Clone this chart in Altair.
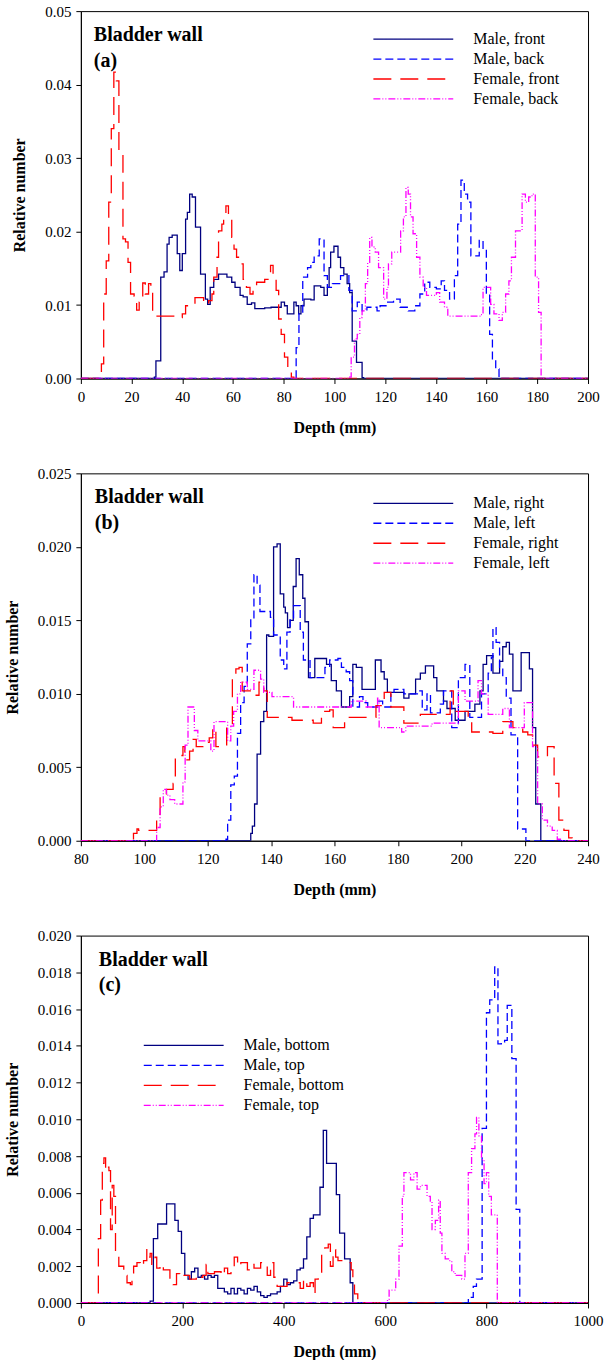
import altair as alt
import pandas as pd

# ---------------- Panel (a): front / back ----------------
a_names = ["Male, front", "Male, back", "Female, front", "Female, back"]
a_mf_x = [0, 29.0, 29.6, 31.5, 32.8, 34.0, 34.8, 36.0, 38.0, 39.0, 40.0, 41.3, 42.0, 42.9, 43.9, 45.2, 47.2, 49.1, 50.0, 51.0,
          52.4, 54.3, 57.6, 59.5, 60.8, 62.8, 64.0, 65.6, 67.3, 68.6, 72.5, 75.0, 79.0, 80.3, 81.4, 84.0, 84.9, 85.9, 86.8, 88.0,
          90.7, 92.0, 94.6, 95.9, 97.2, 97.9, 98.5, 99.8, 101.4, 102.4, 103.7, 105.0, 106.0, 107.0, 108.7, 110.9, 111.5, 200]
a_mf_y = [0, 0.0002, 0.0024, 0.0138, 0.0145, 0.0183, 0.0192, 0.0195, 0.0170, 0.0147, 0.0170, 0.0217, 0.0226, 0.0251, 0.0247, 0.0206, 0.0142, 0.0108, 0.0101, 0.0124,
          0.0135, 0.0142, 0.0138, 0.0131, 0.0124, 0.0113, 0.0111, 0.0101, 0.0103, 0.0095, 0.0096, 0.0097, 0.0104, 0.0099, 0.0088, 0.0104, 0.0099, 0.0088, 0.0099, 0.0108,
          0.0107, 0.0126, 0.0124, 0.0113, 0.0124, 0.0151, 0.0172, 0.0180, 0.0165, 0.0151, 0.0142, 0.0129, 0.0117, 0.0051, 0.0022, 0.0001, 0, 0]
a_mb_x = [0, 84.9, 86.0, 87.5, 89.4, 90.7, 92.0, 94.0, 95.9, 97.2, 99.2, 102.4, 105.7, 107.0, 109.0, 110.9, 112.8, 116.8, 118.0, 120.6,
          123.3, 125.9, 129.1, 131.7, 133.7, 135.6, 137.6, 140.2, 142.1, 143.4, 145.4, 147.3, 148.6, 149.9, 151.2, 152.5, 153.8, 157.1, 158.6, 159.9,
          161.2, 162.3, 163.6, 164.9, 200]
a_mb_y = [0, 0.0042, 0.0088, 0.0138, 0.0151, 0.0158, 0.0167, 0.0190, 0.0140, 0.0124, 0.0129, 0.0140, 0.0120, 0.0092, 0.0104, 0.0092, 0.0097, 0.0092, 0.0099, 0.0104,
          0.0108, 0.0097, 0.0092, 0.0099, 0.0115, 0.0131, 0.0124, 0.0122, 0.0133, 0.0120, 0.0108, 0.0140, 0.0210, 0.0270, 0.0251, 0.0240, 0.0167, 0.0188, 0.0176, 0.0115,
          0.0060, 0.0024, 0.0013, 0, 0]
a_ff_x = [0, 6.8, 8.1, 9.0, 10.0, 11.0, 12.0, 13.0, 14.0, 15.0, 16.6, 17.6, 18.6, 19.6, 21.0, 22.0, 23.0, 23.7, 24.4, 25.4,
          26.7, 27.6, 28.3, 34.0, 38.7, 40.0, 41.3, 43.0, 45.0, 48.4, 50.4, 51.7, 52.4, 53.7, 54.3, 55.6, 56.3, 57.2, 58.2, 59.5,
          60.4, 61.4, 62.7, 64.0, 65.3, 66.7, 67.9, 69.3, 72.5, 73.8, 74.8, 75.8, 77.0, 78.0, 79.0, 80.3, 81.6, 83.0, 84.0, 200]
a_ff_y = [0, 0.0006, 0.0020, 0.0115, 0.0160, 0.0240, 0.0340, 0.0417, 0.0405, 0.0306, 0.0190, 0.0186, 0.0158, 0.0115, 0.0112, 0.0093, 0.0104, 0.0110, 0.0130, 0.0115,
          0.0129, 0.0124, 0.0085, 0.0085, 0.0083, 0.0088, 0.0099, 0.0101, 0.0110, 0.0101, 0.0106, 0.0115, 0.0138, 0.0165, 0.0201, 0.0210, 0.0222, 0.0235, 0.0217, 0.0192,
          0.0176, 0.0165, 0.0156, 0.0135, 0.0124, 0.0115, 0.0124, 0.0131, 0.0135, 0.0142, 0.0154, 0.0135, 0.0120, 0.0081, 0.0060, 0.0029, 0.0015, 0.0002, 0, 0]
a_fb_x = [0, 105.7, 106.6, 107.9, 109.0, 110.0, 110.9, 112.2, 113.1, 113.9, 114.8, 116.1, 117.4, 119.4, 120.7, 121.3, 122.6, 126.1, 127.2, 128.2,
          129.1, 130.0, 131.0, 132.4, 133.7, 135.0, 136.3, 140.2, 141.5, 143.4, 144.7, 157.7, 158.6, 161.6, 162.9, 164.9, 166.2, 167.5, 168.8, 169.8,
          171.4, 174.0, 175.3, 176.6, 177.9, 179.2, 180.5, 181.5, 200]
a_fb_y = [0, 0.0002, 0.0029, 0.0054, 0.0060, 0.0083, 0.0092, 0.0129, 0.0158, 0.0192, 0.0179, 0.0172, 0.0151, 0.0108, 0.0124, 0.0156, 0.0172, 0.0201, 0.0220, 0.0260,
          0.0251, 0.0220, 0.0197, 0.0165, 0.0138, 0.0124, 0.0113, 0.0117, 0.0104, 0.0097, 0.0085, 0.0087, 0.0124, 0.0101, 0.0088, 0.0079, 0.0090, 0.0115, 0.0133, 0.0165,
          0.0201, 0.0251, 0.0240, 0.0247, 0.0251, 0.0138, 0.0090, 0, 0]

# ---------------- Panel (b): right / left ----------------
b_names = ["Male, right", "Male, left", "Female, right", "Female, left"]
b_mr_x = [80, 133.6, 134.1, 134.8, 135.6, 136.7, 137.7, 138.6, 139.3, 140.8, 141.9, 142.9, 144.0, 144.5, 145.2, 146.0, 147.0, 147.9, 148.9, 150.0,
          150.7, 151.8, 153.8, 157.5, 159.0, 160.6, 162.2, 164.8, 165.8, 166.9, 168.7, 172.9, 174.7, 175.7, 176.7, 181.9, 183.5, 185.6, 187.1, 188.7,
          191.3, 192.3, 194.4, 195.5, 198.1, 201.2, 204.3, 205.9, 206.9, 208.0, 210.0, 212.1, 213.1, 214.2, 215.2, 216.3, 218.9, 221.5, 222.5, 223.5,
          225.1, 240]
b_mr_y = [0, 0.0005, 0.0010, 0.0025, 0.0059, 0.0081, 0.0088, 0.0140, 0.0139, 0.0200, 0.0202, 0.0168, 0.0159, 0.0155, 0.0145, 0.0150, 0.0173, 0.0192, 0.0181, 0.0165,
          0.0149, 0.0111, 0.0124, 0.0120, 0.0109, 0.0102, 0.0091, 0.0098, 0.0120, 0.0118, 0.0103, 0.0123, 0.0115, 0.0110, 0.0101, 0.0097, 0.0100, 0.0110, 0.0114, 0.0119,
          0.0111, 0.0102, 0.0095, 0.0090, 0.0082, 0.0088, 0.0093, 0.0102, 0.0120, 0.0126, 0.0114, 0.0122, 0.0132, 0.0135, 0.0127, 0.0102, 0.0128, 0.0117, 0.0077, 0.0025,
          0, 0]
b_ml_x = [80, 125.8, 126.3, 127.3, 128.4, 129.4, 130.4, 131.5, 132.5, 133.6, 134.6, 135.6, 136.5, 139.8, 140.8, 142.9, 144.0, 145.0, 146.0, 147.1,
          149.2, 150.2, 152.3, 157.0, 158.5, 161.1, 162.2, 163.7, 164.8, 165.8, 167.9, 169.0, 170.5, 173.6, 175.2, 177.8, 178.8, 181.9, 186.6, 187.7,
          189.2, 190.3, 193.4, 194.4, 197.0, 199.1, 201.2, 202.7, 206.4, 208.5, 209.5, 210.0, 211.0, 212.1, 213.1, 214.2, 215.7, 217.8, 220.4, 240]
b_ml_y = [0, 0.0001, 0.0014, 0.0038, 0.0044, 0.0073, 0.0094, 0.0105, 0.0134, 0.0151, 0.0181, 0.0174, 0.0156, 0.0152, 0.0140, 0.0123, 0.0117, 0.0142, 0.0151, 0.0160,
          0.0142, 0.0123, 0.0111, 0.0118, 0.0123, 0.0124, 0.0118, 0.0115, 0.0109, 0.0091, 0.0098, 0.0094, 0.0091, 0.0095, 0.0091, 0.0100, 0.0103, 0.0100, 0.0102, 0.0089,
          0.0100, 0.0087, 0.0093, 0.0102, 0.0077, 0.0111, 0.0120, 0.0084, 0.0100, 0.0114, 0.0125, 0.0145, 0.0135, 0.0118, 0.0111, 0.0097, 0.0072, 0.0008, 0, 0]
b_fr_x = [80, 96.6, 97.7, 98.2, 103.9, 105.0, 107.0, 109.1, 109.8, 112.2, 112.8, 114.3, 115.4, 116.4, 118.5, 120.5, 121.6, 122.6, 126.0, 127.8,
          128.9, 129.9, 130.9, 134.1, 136.2, 137.7, 138.8, 146.6, 153.3, 155.9, 158.5, 159.6, 163.2, 173.1, 175.7, 177.8, 181.9, 187.1, 196.5, 197.5,
          202.2, 203.3, 210.0, 213.1, 216.3, 219.4, 221.0, 222.5, 224.1, 227.2, 229.3, 230.8, 232.4, 233.9, 235.0, 240]
b_fr_y = [0, 0.0005, 0.0008, 0.0007, 0.0018, 0.0030, 0.0035, 0.0039, 0.0058, 0.0064, 0.0055, 0.0061, 0.0069, 0.0064, 0.0067, 0.0070, 0.0077, 0.0064, 0.0078, 0.0111,
          0.0117, 0.0118, 0.0102, 0.0099, 0.0108, 0.0102, 0.0084, 0.0082, 0.0080, 0.0088, 0.0089, 0.0077, 0.0084, 0.0092, 0.0101, 0.0091, 0.0080, 0.0086, 0.0102, 0.0088,
          0.0084, 0.0074, 0.0073, 0.0081, 0.0077, 0.0074, 0.0072, 0.0065, 0.0057, 0.0064, 0.0039, 0.0014, 0.0007, 0.0002, 0, 0]
b_fl_x = [80, 103.9, 105.0, 106.0, 107.0, 108.1, 109.6, 112.2, 112.9, 113.8, 115.8, 116.9, 121.0, 122.0, 126.3, 127.3, 128.2, 129.4, 130.4, 132.5,
          134.6, 136.7, 137.7, 140.3, 147.1, 165.3, 170.0, 173.6, 174.1, 181.2, 182.5, 190.8, 199.1, 201.2, 205.3, 206.4, 208.5, 213.1, 215.2, 219.9,
          222.5, 224.1, 225.6, 227.2, 228.7, 230.3, 231.3, 240]
b_fl_y = [0, 0.0009, 0.0023, 0.0035, 0.0031, 0.0028, 0.0025, 0.0040, 0.0065, 0.0091, 0.0075, 0.0068, 0.0061, 0.0081, 0.0068, 0.0078, 0.0088, 0.0100, 0.0108, 0.0103,
          0.0116, 0.0110, 0.0101, 0.0098, 0.0091, 0.0095, 0.0091, 0.0097, 0.0077, 0.0074, 0.0078, 0.0080, 0.0102, 0.0095, 0.0109, 0.0100, 0.0086, 0.0090, 0.0077, 0.0094,
          0.0064, 0.0025, 0.0014, 0.0010, 0.0007, 0.0001, 0, 0]

# ---------------- Panel (c): bottom / top ----------------
c_names = ["Male, bottom", "Male, top", "Female, bottom", "Female, top"]
c_mb_x = [0, 136.6, 143.0, 151.5, 169.0, 185.4, 191.9, 198.4, 204.9, 211.4, 217.9, 224.4, 230.9, 237.4, 243.9, 250.4, 256.9, 263.4, 269.9, 282.9,
          289.4, 295.9, 302.4, 308.9, 315.4, 321.9, 328.4, 334.9, 341.4, 347.9, 354.5, 361.0, 367.5, 374.0, 387.0, 393.5, 400.0, 406.5, 413.0, 419.6,
          426.0, 432.5, 439.0, 445.5, 452.0, 458.5, 471.5, 478.0, 484.5, 503.7, 510.2, 520.0, 531.0, 536.3, 1000]
c_mb_y = [0, 0.0001, 0.0035, 0.0043, 0.0054, 0.0045, 0.0039, 0.0027, 0.0015, 0.0013, 0.0017, 0.0019, 0.0014, 0.0015, 0.0013, 0.0015, 0.0014, 0.0015, 0.0008, 0.0006,
          0.0005, 0.0008, 0.0005, 0.0008, 0.0007, 0.0005, 0.0008, 0.0007, 0.0009, 0.0006, 0.0004, 0.0003, 0.0004, 0.0005, 0.0006, 0.0009, 0.0013, 0.0010, 0.0011, 0.0012,
          0.0018, 0.0019, 0.0024, 0.0036, 0.0046, 0.0048, 0.0063, 0.0094, 0.0076, 0.0059, 0.0038, 0.0024, 0.0011, 0, 0]
c_mt_x = [0, 764.0, 773.7, 780.0, 791.2, 799.7, 806.2, 816.0, 822.4, 829.0, 835.5, 840.7, 849.8, 858.2, 865.4, 1000]
c_mt_y = [0, 0.0003, 0.0009, 0.0013, 0.0095, 0.0158, 0.0165, 0.0183, 0.0141, 0.0142, 0.0143, 0.0162, 0.0133, 0.0051, 0, 0]
c_fb_x = [0, 34.5, 39.0, 42.3, 45.5, 48.8, 52.0, 55.3, 58.5, 61.8, 65.0, 68.3, 74.8, 84.6, 91.0, 97.6, 100.8, 104.0, 110.6, 117.0,
          123.6, 130.0, 133.3, 136.6, 139.8, 146.3, 149.6, 156.0, 162.6, 175.6, 182.0, 188.6, 195.0, 201.6, 214.6, 227.6, 234.0, 240.6, 247.0, 250.4,
          263.4, 276.4, 283.0, 289.4, 296.0, 302.4, 309.0, 315.4, 328.4, 335.0, 341.4, 354.5, 361.0, 367.5, 374.0, 380.5, 387.0, 406.5, 432.5, 439.0,
          445.5, 452.0, 458.5, 461.8, 468.0, 474.8, 481.0, 487.8, 492.0, 497.3, 502.4, 507.0, 526.5, 533.0, 536.3, 539.5, 546.0, 1000]
c_fb_y = [0, 0.0035, 0.0056, 0.0076, 0.0079, 0.0072, 0.0074, 0.0072, 0.0040, 0.0064, 0.0058, 0.0027, 0.0020, 0.0015, 0.0011, 0.0010, 0.0016, 0.0020, 0.0022, 0.0020,
          0.0023, 0.0029, 0.0025, 0.0027, 0.0021, 0.0025, 0.0019, 0.0021, 0.0018, 0.0013, 0.0010, 0.0016, 0.0014, 0.0015, 0.0013, 0.0015, 0.0014, 0.0015, 0.0021, 0.0016,
          0.0017, 0.0015, 0.0019, 0.0016, 0.0018, 0.0025, 0.0020, 0.0022, 0.0018, 0.0021, 0.0019, 0.0022, 0.0020, 0.0015, 0.0022, 0.0014, 0.0009, 0.0011, 0.0008, 0.0013,
          0.0009, 0.0011, 0.0005, 0.0013, 0.0016, 0.0027, 0.0030, 0.0032, 0.0020, 0.0029, 0.0025, 0.0023, 0.0022, 0.0018, 0.0012, 0.0005, 0, 0]
c_ft_x = [0, 604.6, 607.8, 620.8, 627.3, 633.8, 637.0, 650.0, 656.6, 663.0, 669.6, 682.6, 689.0, 692.4, 698.9, 705.4, 708.6, 711.9, 718.4, 724.9,
          731.4, 738.0, 751.0, 757.4, 763.9, 770.4, 777.0, 780.2, 784.8, 790.0, 795.0, 799.7, 804.2, 809.4, 821.1, 1000]
c_ft_y = [0, 0.0002, 0.0007, 0.0013, 0.0031, 0.0058, 0.0071, 0.0067, 0.0071, 0.0062, 0.0064, 0.0058, 0.0055, 0.0040, 0.0045, 0.0056, 0.0038, 0.0027, 0.0024, 0.0023,
          0.0017, 0.0015, 0.0013, 0.0027, 0.0071, 0.0084, 0.0092, 0.0101, 0.0091, 0.0078, 0.0065, 0.0071, 0.0058, 0.0048, 0, 0]

# ---------------- styles ----------------
COLORS = ["#000080", "#0000FF", "#FF0000", "#FF00FF"]
DASHES = [[1, 0], [8, 4], [18, 9], [7, 2, 1, 2, 1, 2]]
SERIF = "Liberation Serif, Times New Roman, Times, serif"
W, H = 508, 368


def panel(series, names, xdom, xticks, ydom, yticks, yfmt, letter, leg_x, leg_y, tag_x):
    xenc = alt.X("depth:Q", scale=alt.Scale(domain=xdom, nice=False, zero=False),
                 axis=alt.Axis(values=xticks, format="d", title="Depth (mm)"))
    yenc = alt.Y("value:Q", scale=alt.Scale(domain=ydom, nice=False),
                 axis=alt.Axis(values=yticks, format=yfmt, title="Relative number"))
    layers = []
    for (xs, ys), name, col, dash in zip(series, names, COLORS, DASHES):
        df = pd.DataFrame({"depth": xs, "value": ys, "series": name})
        layers.append(
            alt.Chart(df).mark_line(interpolate="step-after", color=col, strokeDash=dash,
                                    strokeWidth=1.3, clip=True)
            .encode(x=xenc, y=yenc)
        )
    for i, (name, col, dash) in enumerate(zip(names, COLORS, DASHES)):
        yy = leg_y + 20 * i
        layers.append(
            alt.Chart(pd.DataFrame({"k": [0]})).mark_rule(color=col, strokeDash=dash, strokeWidth=1.3)
            .encode(x=alt.value(leg_x), x2=alt.value(leg_x + 80), y=alt.value(yy))
        )
        layers.append(
            alt.Chart(pd.DataFrame({"k": [0]})).mark_text(align="left", baseline="middle", font=SERIF,
                                                        fontSize=16, color="black")
            .encode(x=alt.value(leg_x + 100), y=alt.value(yy), text=alt.value(name))
        )
    layers.append(
        alt.Chart(pd.DataFrame({"k": [0]})).mark_text(align="left", baseline="alphabetic", font=SERIF,
                                                    fontSize=20, fontWeight="bold", color="black")
        .encode(x=alt.value(tag_x), y=alt.value(30), text=alt.value("Bladder wall"))
    )
    layers.append(
        alt.Chart(pd.DataFrame({"k": [0]})).mark_text(align="left", baseline="alphabetic", font=SERIF,
                                                    fontSize=20, fontWeight="bold", color="black")
        .encode(x=alt.value(tag_x), y=alt.value(56), text=alt.value(letter))
    )
    return alt.layer(*layers).properties(width=W, height=H)


pa = panel([(a_mf_x, a_mf_y), (a_mb_x, a_mb_y), (a_ff_x, a_ff_y), (a_fb_x, a_fb_y)], a_names,
           [0, 200], list(range(0, 201, 20)), [0, 0.05], [0, 0.01, 0.02, 0.03, 0.04, 0.05], ".2f",
           "(a)", 293, 28, 13)
pb = panel([(b_mr_x, b_mr_y), (b_ml_x, b_ml_y), (b_fr_x, b_fr_y), (b_fl_x, b_fl_y)], b_names,
           [80, 240], list(range(80, 241, 20)), [0, 0.025], [0, 0.005, 0.01, 0.015, 0.02, 0.025], ".3f",
           "(b)", 293, 30, 14)
pc = panel([(c_mb_x, c_mb_y), (c_mt_x, c_mt_y), (c_fb_x, c_fb_y), (c_ft_x, c_ft_y)], c_names,
           [0, 1000], list(range(0, 1001, 200)), [0, 0.02], [0, 0.002, 0.004, 0.006, 0.008, 0.01, 0.012, 0.014, 0.016, 0.018, 0.02], ".3f",
           "(c)", 63, 110, 18)

chart = (
    alt.vconcat(pa, pb, pc, spacing=29)
    .resolve_scale(x="independent", y="independent")
    .properties(padding={"left": 3, "top": 2, "right": 0, "bottom": 2}, background="white")
    .configure_view(stroke="black", strokeWidth=1)
    .configure_axis(
        grid=False, domainColor="black", tickColor="black", labelColor="black", titleColor="black",
        labelFont=SERIF, labelFontSize=15, titleFont=SERIF, titleFontSize=16, titleFontWeight="bold",
        tickSize=5, labelPadding=6, domainWidth=1, tickWidth=1,
    )
    .configure_axisY(titlePadding=17, labelPadding=5)
    .configure_axisX(titlePadding=15, labelFlush=False)
)

chart.save("out.html", embed_options={"renderer": "svg", "actions": False})
